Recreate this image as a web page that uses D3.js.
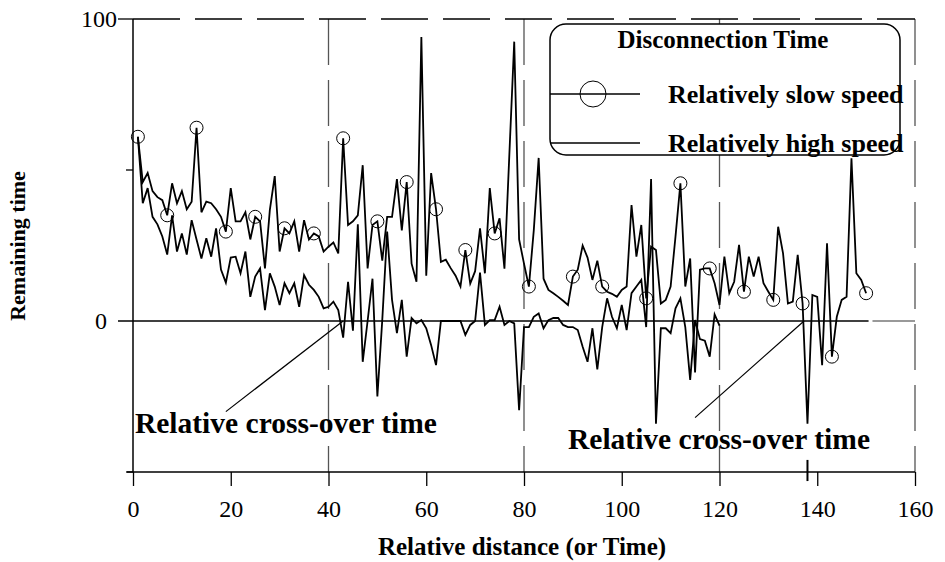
<!DOCTYPE html>
<html>
<head>
<meta charset="utf-8">
<script src="https://cdn.jsdelivr.net/npm/d3@7"></script>
<style>
  html, body { margin: 0; padding: 0; background: #fff; }
  svg { display: block; }
  text { font-family: "Liberation Serif", "Times New Roman", serif; fill: #000; }
</style>
</head>
<body>
<svg id="chart" width="945" height="562"></svg>
<script>
// ---- data ----
const slowSpeed = [61,46,49,43,41,40,35,45.6,39,43,37,39.5,64,36,39.5,39,37,34.5,29.6,44,
  33,33,36,27,34.5,33,17.4,36.8,48,23,30.7,29,33,23,33.4,27,29,28,23,24.6,
  26,22.4,60.5,31.8,33,35,51.6,17.4,31.8,33,20,34.5,34.5,47,30,46,19,13,94,15,
  49,37,19.6,20.3,17.5,15,11.4,23.5,12.4,16.5,30.7,15.8,44,29,34,17.3,55,92.5,27,19,
  11.4,30,54,14,10.3,9.2,8,6.7,5.3,14.7,17,25,21,13.6,20,11.4,9.7,9,8,10.3,
  11.4,38.4,21.3,31.8,7.5,24.6,23.5,5.8,7,11.4,28,45.6,11.4,20.7,-17,17,17.4,17.4,12.5,5.3,
  21.3,9.2,13,25.2,9.7,21.3,14.7,21.3,12.5,9.7,7,31.2,22.4,5.8,6.4,21.9,5.8,-34,8.6,8,
  -14.6,25.7,-11.8,1.4,7,8,53.9,15.8,13.6,9.2];
const highSpeed = [61,39,44,34.5,32,28,22,35,23,29,22,33.4,27,20.7,27.4,21.3,30.7,17,12.7,21,
  21.3,15.8,23,8,14.7,17.4,3.6,15.8,11.4,5.3,12.5,9.2,12.5,4.7,15.2,12,10.3,8,4.2,4.7,
  6.4,3.6,-5.5,13,-3.2,32,-13.5,0,14,-25,0.3,29.6,7,-4,7,-11.8,1,-0.8,0.3,-2.4,
  -8,-14.6,0,0,0,0,0,-4.6,-1.3,0,16,-1.3,0.3,0.3,4.7,-1.3,0,-0.8,-29.5,-2,
  -2,1.4,2.5,-2.4,0.3,1,1,-1.3,-2,-2,-3,-8.5,-13.5,-2.4,-16,-2,7.5,1.4,-2.4,5.3,
  -3,9.2,11.4,13.6,-2,47,-34,-2.4,-2.4,-4,4.2,7.5,-2,-19.5,0.3,-6,-6.5,-11.8,2.2,-1.5];
const slowMarkerIdx = [1,7,13,19,25,31,37,43,50,56,62,68,74,81,90,96,105,112,118,125,131,137,143,150];
const xTicks = [0,20,40,60,80,100,120,140,160];
const yLabelTicks = [100, 0];
const yMinorTicks = [50, -50];
const gridX = [40,80,120,160];
const crossOvers = [{x: 43, lx: 19, ly: -30, tx: 0.4, ty: -37, label: "Relative cross-over time"},
                    {x: 137.3, lx: 115, ly: -32, tx: 89, ty: -42.5, label: "Relative cross-over time"}];

// ---- scales ----
const svg = d3.select("#chart");
const x = d3.scaleLinear().domain([0,160]).range([133, 915]);
const y = d3.scaleLinear().domain([-50,100]).range([472, 19]);

// vertical dashed gridlines
svg.selectAll("line.grid").data(gridX).enter().append("line")
  .attr("x1", d => x(d)).attr("x2", d => x(d))
  .attr("y1", y(100)).attr("y2", y(-50))
  .attr("stroke", "#555").attr("stroke-width", 1.3)
  .attr("stroke-dasharray", "46,15");

// top dashed border
svg.append("line").attr("x1", x(0)).attr("x2", x(160)).attr("y1", y(100)).attr("y2", y(100))
  .attr("stroke", "#000").attr("stroke-width", 1.3).attr("stroke-dasharray", "47,15");
svg.append("line").attr("x1", x(0) - 15).attr("x2", x(0)).attr("y1", y(100)).attr("y2", y(100))
  .attr("stroke", "#000").attr("stroke-width", 1.3);

// zero line
svg.append("line").attr("x1", x(0) - 15).attr("x2", x(150.5)).attr("y1", y(0)).attr("y2", y(0))
  .attr("stroke", "#000").attr("stroke-width", 1.5);
svg.append("line").attr("x1", x(151.3)).attr("x2", x(160)).attr("y1", y(0)).attr("y2", y(0))
  .attr("stroke", "#777").attr("stroke-width", 1.3);

// left axis
svg.append("line").attr("x1", x(0)).attr("x2", x(0)).attr("y1", y(100)).attr("y2", y(-50))
  .attr("stroke", "#000").attr("stroke-width", 1.5);
svg.selectAll("line.ymin").data(yMinorTicks).enter().append("line")
  .attr("x1", x(0) - 7).attr("x2", x(0)).attr("y1", d => y(d)).attr("y2", d => y(d))
  .attr("stroke", "#000").attr("stroke-width", 1.3);
svg.selectAll("text.ylab").data(yLabelTicks).enter().append("text")
  .attr("x", d => d === 0 ? x(0) - 26 : x(0) - 16).attr("y", d => y(d) + 8)
  .attr("text-anchor", "end").attr("font-size", 24).text(d => d);

// bottom axis
const xAxis = d3.axisBottom(x).tickValues(xTicks).tickSize(14).tickPadding(14).tickSizeOuter(0);
const gx = svg.append("g").attr("transform", `translate(0,${y(-50)})`).call(xAxis);
gx.select(".domain").attr("stroke-width", 1.5).attr("d", `M${x(0)-6},0H${x(160)}`);
gx.selectAll(".tick line").attr("stroke-width", 1.3);
gx.selectAll(".tick text").attr("font-size", 24).attr("font-family", "Liberation Serif, serif").attr("fill", "#000");

// axis titles
svg.append("text").attr("x", 522).attr("y", 555).attr("text-anchor", "middle")
  .attr("font-size", 25).attr("font-weight", "bold").text("Relative distance (or Time)");
svg.append("text").attr("transform", "translate(25,246) rotate(-90)").attr("text-anchor", "middle")
  .attr("font-size", 22).attr("font-weight", "bold").text("Remaining time");

// series lines
const line = d3.line().x((d, i) => x(i + 1)).y(d => y(d));
svg.append("path").datum(highSpeed).attr("d", line)
  .attr("fill", "none").attr("stroke", "#000").attr("stroke-width", 1.8).attr("stroke-linejoin", "miter");
svg.append("path").datum(slowSpeed).attr("d", line)
  .attr("fill", "none").attr("stroke", "#000").attr("stroke-width", 1.8).attr("stroke-linejoin", "miter");

// circle markers
svg.selectAll("circle.m").data(slowMarkerIdx).enter().append("circle")
  .attr("cx", d => x(d)).attr("cy", d => y(slowSpeed[d - 1])).attr("r", 6.5)
  .attr("fill", "none").attr("stroke", "#000").attr("stroke-width", 1);

// cross-over annotations
crossOvers.forEach(c => {
  svg.append("line").attr("x1", x(c.lx)).attr("y1", y(c.ly)).attr("x2", x(c.x)).attr("y2", y(0))
    .attr("stroke", "#000").attr("stroke-width", 1.2);
  svg.append("text").attr("x", x(c.tx)).attr("y", y(c.ty)).attr("font-size", 29.5)
    .attr("font-weight", "bold").text(c.label);
});
// small marker on bottom axis at second cross-over
svg.append("line").attr("x1", x(138)).attr("x2", x(138)).attr("y1", y(-46)).attr("y2", y(-53))
  .attr("stroke", "#000").attr("stroke-width", 2);

// legend
const lg = svg.append("g");
lg.append("rect").attr("x", 550).attr("y", 24).attr("width", 350).attr("height", 131)
  .attr("rx", 16).attr("ry", 16).attr("fill", "#fff").attr("stroke", "#000").attr("stroke-width", 1.5);
lg.append("text").attr("x", 723).attr("y", 48).attr("text-anchor", "middle")
  .attr("font-size", 25).attr("font-weight", "bold").text("Disconnection Time");
const legendItems = [{label: "Relatively slow speed", yy: 94, marker: true},
                     {label: "Relatively high speed", yy: 143, marker: false}];
legendItems.forEach(it => {
  lg.append("line").attr("x1", 550).attr("x2", 640).attr("y1", it.yy).attr("y2", it.yy)
    .attr("stroke", "#000").attr("stroke-width", 1.5);
  if (it.marker) lg.append("circle").attr("cx", 593).attr("cy", it.yy).attr("r", 13)
    .attr("fill", "none").attr("stroke", "#000").attr("stroke-width", 1);
  lg.append("text").attr("x", 668).attr("y", it.yy + 9).attr("font-size", 26)
    .attr("font-weight", "bold").text(it.label);
});
</script>
</body>
</html>
